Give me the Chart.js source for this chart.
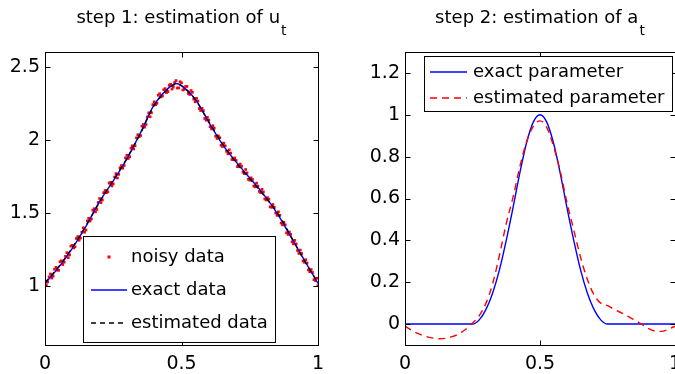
<!DOCTYPE html>
<html>
<head>
<meta charset="utf-8">
<script src="https://cdn.jsdelivr.net/npm/chart.js@4"></script>
<style>
html, body { margin: 0; padding: 0; background: #fff; width: 675px; height: 374px; overflow: hidden; }
#left { position: absolute; left: 0; top: 0; }
#right { position: absolute; left: 340px; top: 0; }
</style>
</head>
<body>
<canvas id="left" width="340" height="374"></canvas>
<canvas id="right" width="360" height="374"></canvas>
<script>
// step 1 data: u(t)
const uX = [0, 0.05, 0.1, 0.15, 0.2, 0.25, 0.3, 0.35, 0.4, 0.45, 0.48, 0.5, 0.55, 0.6, 0.65, 0.7, 0.75, 0.8, 0.85, 0.9, 0.95, 1];
const uExact = [1.02, 1.13, 1.26, 1.41, 1.58, 1.72, 1.87, 2.05, 2.24, 2.35, 2.385, 2.37, 2.28, 2.12, 1.97, 1.85, 1.74, 1.63, 1.50, 1.34, 1.18, 1.02];
const uEstimated = [1.025, 1.135, 1.265, 1.415, 1.575, 1.725, 1.875, 2.045, 2.235, 2.345, 2.38, 2.37, 2.275, 2.125, 1.975, 1.845, 1.735, 1.625, 1.505, 1.345, 1.175, 1.025];

// noisy samples, two interleaved sets
const noisyX = [0, 0.01, 0.02, 0.03, 0.04, 0.05, 0.06, 0.07, 0.08, 0.09,
    0.1, 0.11, 0.12, 0.13, 0.14, 0.15, 0.16, 0.17, 0.18, 0.19,
    0.2, 0.21, 0.22, 0.23, 0.24, 0.25, 0.26, 0.27, 0.28, 0.29,
    0.3, 0.31, 0.32, 0.33, 0.34, 0.35, 0.36, 0.37, 0.38, 0.39,
    0.4, 0.41, 0.42, 0.43, 0.44, 0.45, 0.46, 0.47, 0.48, 0.49,
    0.5, 0.51, 0.52, 0.53, 0.54, 0.55, 0.56, 0.57, 0.58, 0.59,
    0.6, 0.61, 0.62, 0.63, 0.64, 0.65, 0.66, 0.67, 0.68, 0.69,
    0.7, 0.71, 0.72, 0.73, 0.74, 0.75, 0.76, 0.77, 0.78, 0.79,
    0.8, 0.81, 0.82, 0.83, 0.84, 0.85, 0.86, 0.87, 0.88, 0.89,
    0.9, 0.91, 0.92, 0.93, 0.94, 0.95, 0.96, 0.97, 0.98, 0.99,
    1];
const noisyY = [1.035, 1.03, 1.085, 1.07, 1.13, 1.11, 1.175, 1.165, 1.23, 1.215,
    1.28, 1.27, 1.34, 1.33, 1.40, 1.385, 1.465, 1.46, 1.53, 1.525,
    1.60, 1.59, 1.655, 1.645, 1.71, 1.70, 1.77, 1.765, 1.825, 1.825,
    1.895, 1.885, 1.96, 1.96, 2.035, 2.03, 2.105, 2.105, 2.185, 2.185,
    2.26, 2.25, 2.315, 2.30, 2.35, 2.33, 2.38, 2.36, 2.405, 2.355,
    2.39, 2.345, 2.365, 2.31, 2.325, 2.26, 2.265, 2.20, 2.20, 2.135,
    2.135, 2.075, 2.08, 2.01, 2.015, 1.955, 1.96, 1.905, 1.91, 1.865,
    1.86, 1.82, 1.82, 1.77, 1.775, 1.725, 1.73, 1.68, 1.685, 1.64,
    1.645, 1.59, 1.595, 1.54, 1.54, 1.485, 1.485, 1.42, 1.42, 1.355,
    1.355, 1.29, 1.29, 1.225, 1.225, 1.165, 1.16, 1.10, 1.095, 1.04,
    1.005];
const noisyX2 = [0.005, 0.015, 0.025, 0.035, 0.045, 0.055, 0.065, 0.075, 0.085, 0.095,
    0.105, 0.115, 0.125, 0.135, 0.145, 0.155, 0.165, 0.175, 0.185, 0.195,
    0.205, 0.215, 0.225, 0.235, 0.245, 0.255, 0.265, 0.275, 0.285, 0.295,
    0.305, 0.315, 0.325, 0.335, 0.345, 0.355, 0.365, 0.375, 0.385, 0.395,
    0.405, 0.415, 0.425, 0.435, 0.445, 0.455, 0.465, 0.475, 0.485, 0.495,
    0.505, 0.515, 0.525, 0.535, 0.545, 0.555, 0.565, 0.575, 0.585, 0.595,
    0.605, 0.615, 0.625, 0.635, 0.645, 0.655, 0.665, 0.675, 0.685, 0.695,
    0.705, 0.715, 0.725, 0.735, 0.745, 0.755, 0.765, 0.775, 0.785, 0.795,
    0.805, 0.815, 0.825, 0.835, 0.845, 0.855, 0.865, 0.875, 0.885, 0.895,
    0.905, 0.915, 0.925, 0.935, 0.945, 0.955, 0.965, 0.975, 0.985, 0.995];
const noisyY2 = [1.011, 1.065, 1.057, 1.117, 1.111, 1.168, 1.149, 1.205, 1.196, 1.275,
    1.263, 1.327, 1.315, 1.37, 1.37, 1.447, 1.446, 1.52, 1.509, 1.573,
    1.572, 1.64, 1.64, 1.705, 1.686, 1.747, 1.74, 1.81, 1.807, 1.877,
    1.873, 1.944, 1.938, 2.014, 2.022, 2.094, 2.087, 2.157, 2.158, 2.241,
    2.24, 2.305, 2.293, 2.343, 2.323, 2.373, 2.347, 2.392, 2.354, 2.397,
    2.341, 2.365, 2.317, 2.337, 2.278, 2.284, 2.214, 2.215, 2.146, 2.154,
    2.09, 2.097, 2.025, 2.027, 1.963, 1.978, 1.922, 1.932, 1.866, 1.877,
    1.817, 1.835, 1.78, 1.798, 1.731, 1.741, 1.685, 1.705, 1.648, 1.663,
    1.597, 1.606, 1.543, 1.559, 1.501, 1.509, 1.432, 1.438, 1.366, 1.371,
    1.304, 1.314, 1.245, 1.248, 1.174, 1.182, 1.112, 1.115, 1.046, 1.056];

// step 2 data: a(t)
const aX = [0, 0.25, 0.275, 0.3, 0.325, 0.35, 0.375, 0.4, 0.425, 0.45, 0.475, 0.5,
    0.525, 0.55, 0.575, 0.6, 0.625, 0.65, 0.675, 0.7, 0.725, 0.75, 1];
const aExact = [0, 0, 0.02, 0.07, 0.15, 0.26, 0.4, 0.555, 0.72, 0.865, 0.965, 1,
    0.965, 0.865, 0.72, 0.555, 0.4, 0.26, 0.15, 0.07, 0.02, 0, 0];

const estX = [0, 0.025, 0.05, 0.075, 0.1, 0.125, 0.15, 0.175, 0.2, 0.225,
    0.25, 0.275, 0.3, 0.325, 0.35, 0.375, 0.4, 0.425, 0.45, 0.475,
    0.5, 0.525, 0.55, 0.575, 0.6, 0.625, 0.65, 0.675, 0.7, 0.725,
    0.75, 0.775, 0.8, 0.825, 0.85, 0.875, 0.9, 0.925, 0.95, 0.975, 1];
const aEstimated = [-0.01, -0.03, -0.046, -0.058, -0.066, -0.07, -0.068, -0.06, -0.047, -0.025,
    0.005, 0.04, 0.1, 0.195, 0.33, 0.48, 0.605, 0.75, 0.87, 0.945,
    0.971, 0.94, 0.85, 0.73, 0.58, 0.45, 0.32, 0.215, 0.14, 0.1,
    0.088, 0.07, 0.055, 0.037, 0.02, 0.0, -0.02, -0.033, -0.035, -0.025,
    -0.01];

// ticks
const xTicks = [0, 0.5, 1];
const xTickLabels = ['0', '0.5', '1'];
const uTicks = [1, 1.5, 2, 2.5];
const uTickLabels = ['1', '1.5', '2', '2.5'];
const aTicks = [0, 0.2, 0.4, 0.6, 0.8, 1, 1.2];
const aTickLabels = ['0', '0.2', '0.4', '0.6', '0.8', '1', '1.2'];

const FONT = '"DejaVu Sans", Arial, sans-serif';
Chart.defaults.font.family = FONT;
Chart.defaults.font.size = 19;
Chart.defaults.color = '#000';

function toXY(xs, ys) {
    return xs.map((x, i) => ({ x: x, y: ys[i] }));
}

// MATLAB-like box, inward ticks, legend and title with subscript
const matlabAxes = {
    id: 'matlabAxes',
    afterDatasetsDraw(chart, args, opts) {
        const ctx = chart.ctx;
        const a = chart.chartArea;
        const xs = chart.scales.x, ys = chart.scales.y;
        const L = Math.round(a.left) + 0.5, R = Math.round(a.right) + 0.5;
        const T = Math.round(a.top) + 0.5, B = Math.round(a.bottom) + 0.5;
        ctx.save();
        ctx.strokeStyle = '#000';
        ctx.lineWidth = 1;
        ctx.setLineDash([]);
        ctx.beginPath();
        xs.ticks.forEach(t => {
            const px = Math.round(xs.getPixelForValue(t.value)) + 0.5;
            ctx.moveTo(px, B); ctx.lineTo(px, B - 5);
            ctx.moveTo(px, T); ctx.lineTo(px, T + 5);
        });
        ys.ticks.forEach(t => {
            const py = Math.round(ys.getPixelForValue(t.value)) + 0.5;
            ctx.moveTo(L, py); ctx.lineTo(L + 5, py);
            ctx.moveTo(R, py); ctx.lineTo(R - 5, py);
        });
        ctx.stroke();

        // legend
        const lg = opts.legend;
        ctx.fillStyle = '#fff';
        ctx.fillRect(lg.x, lg.y, lg.w, lg.h);
        ctx.strokeRect(lg.x + 0.5, lg.y + 0.5, lg.w, lg.h);
        ctx.font = '18px ' + FONT;
        ctx.textBaseline = 'middle';
        ctx.textAlign = 'left';
        lg.rows.forEach((ry, i) => {
            const ds = chart.data.datasets[i];
            ctx.save();
            if (ds.showLine === false) {
                ctx.fillStyle = ds.pointBackgroundColor;
                ctx.fillRect((lg.sx0 + lg.sx1) / 2 - 1.5, ry - 1.5, 3, 3);
            } else {
                ctx.strokeStyle = ds.borderColor;
                ctx.lineWidth = ds.borderWidth;
                ctx.setLineDash(ds.borderDash || []);
                ctx.beginPath();
                ctx.moveTo(lg.sx0, ry);
                ctx.lineTo(lg.sx1, ry);
                ctx.stroke();
            }
            ctx.restore();
            ctx.fillStyle = '#000';
            ctx.fillText(ds.label, lg.tx, ry);
        });

        ctx.strokeStyle = '#000';
        ctx.strokeRect(L, T, R - L, B - T);
        ctx.restore();
    },
    afterDraw(chart, args, opts) {
        const ctx = chart.ctx;
        const a = chart.chartArea;
        const cx = (a.left + a.right) / 2;
        ctx.save();
        ctx.fillStyle = '#000';
        ctx.textBaseline = 'alphabetic';
        ctx.textAlign = 'left';
        ctx.font = '18px ' + FONT;
        const w = ctx.measureText(opts.title).width;
        ctx.font = '14px ' + FONT;
        const ws = ctx.measureText(opts.sub).width;
        const x0 = cx - (w + ws + 1) / 2;
        ctx.font = '18px ' + FONT;
        ctx.fillText(opts.title, x0, 23);
        ctx.font = '14px ' + FONT;
        ctx.fillText(opts.sub, x0 + w + 1, 35);
        ctx.restore();
    }
};

function makeOptions(yMin, yMax, yTicks, yLabels, yWidth, padRight, title, sub, legend) {
    return {
        responsive: false,
        animation: false,
        layout: { padding: { left: 0, right: padRight, top: 52, bottom: 0 } },
        scales: {
            x: {
                type: 'linear',
                min: 0, max: 1,
                grid: { display: false, drawTicks: false },
                border: { display: false },
                afterBuildTicks: s => { s.ticks = xTicks.map(v => ({ value: v })); },
                afterFit: s => { s.height = 29; },
                ticks: { padding: 8, maxRotation: 0, callback: (v, i) => xTickLabels[i] }
            },
            y: {
                type: 'linear',
                min: yMin, max: yMax,
                grid: { display: false, drawTicks: false },
                border: { display: false },
                afterBuildTicks: s => { s.ticks = yTicks.map(v => ({ value: v })); },
                afterFit: s => { s.width = yWidth; },
                ticks: { padding: 5, callback: (v, i) => yLabels[i] }
            }
        },
        plugins: {
            legend: { display: false },
            tooltip: { enabled: false },
            matlabAxes: { title: title, sub: sub, legend: legend }
        }
    };
}

new Chart(document.getElementById('left'), {
    type: 'scatter',
    data: {
        datasets: [
            {
                label: 'noisy data',
                data: toXY(noisyX, noisyY).concat(toXY(noisyX2, noisyY2)),
                showLine: false,
                pointStyle: 'rect',
                pointRadius: 1.9,
                pointBorderWidth: 0,
                pointBackgroundColor: '#ff0000',
                order: 3
            },
            {
                label: 'exact data',
                data: toXY(uX, uExact),
                showLine: true,
                borderColor: '#0000ff',
                borderWidth: 1.4,
                pointRadius: 0,
                cubicInterpolationMode: 'monotone',
                order: 2
            },
            {
                label: 'estimated data',
                data: toXY(uX, uEstimated),
                showLine: true,
                borderColor: '#000000',
                borderWidth: 1.3,
                borderDash: [5, 4],
                pointRadius: 0,
                cubicInterpolationMode: 'monotone',
                order: 1
            }
        ]
    },
    options: makeOptions(0.6, 2.6, uTicks, uTickLabels, 45, 22, 'step 1: estimation of u', 't',
        { x: 83, y: 236, w: 192, h: 106, sx0: 91, sx1: 127, tx: 131, rows: [257, 290, 323] }),
    plugins: [matlabAxes]
});

new Chart(document.getElementById('right'), {
    type: 'scatter',
    data: {
        datasets: [
            {
                label: 'exact parameter',
                data: toXY(aX, aExact),
                showLine: true,
                borderColor: '#0000ff',
                borderWidth: 1.4,
                pointRadius: 0,
                cubicInterpolationMode: 'monotone',
                order: 2
            },
            {
                label: 'estimated parameter',
                data: toXY(estX, aEstimated),
                showLine: true,
                borderColor: '#ff0000',
                borderWidth: 1.4,
                borderDash: [7, 5],
                pointRadius: 0,
                cubicInterpolationMode: 'monotone',
                order: 1
            }
        ]
    },
    options: makeOptions(-0.1, 1.3, aTicks, aTickLabels, 65, 25, 'step 2: estimation of a', 't',
        { x: 84, y: 56, w: 248, h: 55, sx0: 90, sx1: 127, tx: 133, rows: [72, 98] }),
    plugins: [matlabAxes]
});
</script>
</body>
</html>
